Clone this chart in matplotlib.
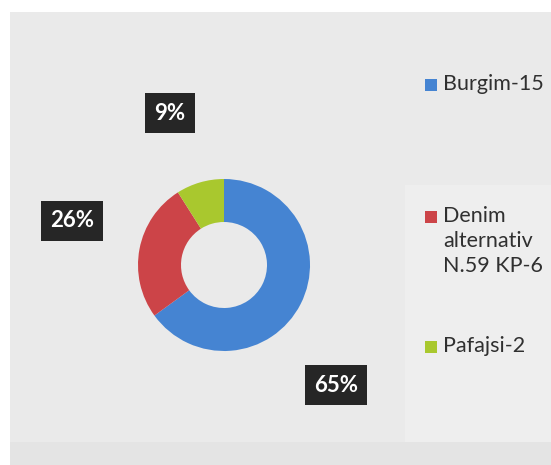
import matplotlib
matplotlib.use("Agg")
import matplotlib.pyplot as plt
from matplotlib.patches import Rectangle

# data
categories = ["Burgim-15", "Denim\nalternativ\nN.59 KP-6", "Pafajsi-2"]
shares = [65, 26, 9]
pct_labels = ["65%", "26%", "9%"]
colors = ["#4584d2", "#cc4448", "#a9c82e"]

# layout (pixel units, y up)
W, H = 551, 465
center = (224, H - 265)
radius = 86
label_xy = [(336, H - 385), (72, H - 221), (170, H - 113)]
legend_y = [85, 217, 347]

plt.rcParams["font.family"] = ["Lato", "DejaVu Sans"]

fig = plt.figure(figsize=(W / 100, H / 100), dpi=100, facecolor="white")
ax = fig.add_axes([0, 0, 1, 1])

# scanned page background
ax.add_patch(Rectangle((10, 0), W - 10, H - 12, facecolor="#eaeaea", edgecolor="none", zorder=0))
ax.add_patch(Rectangle((405, H - 442), W - 405, 442 - 185, facecolor="#eeeeee", edgecolor="none", zorder=0))
ax.add_patch(Rectangle((10, 0), W - 10, H - 442, facecolor="#e4e4e4", edgecolor="none", zorder=0))

ax.pie(shares, colors=colors, startangle=90, counterclock=False,
       center=center, radius=radius, frame=True,
       wedgeprops=dict(width=radius * 0.5, edgecolor="none"))
ax.set_xlim(0, W)
ax.set_ylim(0, H)
ax.set_aspect("equal")
ax.axis("off")

for txt, (x, y) in zip(pct_labels, label_xy):
    ax.text(x, y, txt, ha="center", va="center", color="white",
            fontsize=16, fontweight="bold", zorder=5,
            bbox=dict(boxstyle="square,pad=0.42", facecolor="#262626", edgecolor="none"))

for name, col, y in zip(categories, colors, legend_y):
    ax.add_patch(Rectangle((425, H - y - 6), 12, 12, facecolor=col, edgecolor="none", zorder=5))
    ax.text(443, H - y + 10.5, name, ha="left", va="top", color="#303030",
            fontsize=15.5, linespacing=1.3, zorder=5)

fig.savefig("out.png", dpi=100, facecolor="white")
